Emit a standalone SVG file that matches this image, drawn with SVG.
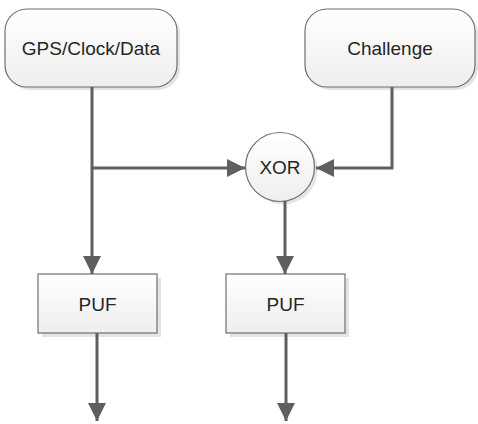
<svg xmlns="http://www.w3.org/2000/svg" width="478" height="424" viewBox="0 0 478 424">
<style>
.box{stroke:#6f6f6f;stroke-width:1.2;fill:url(#g)}
.sh{fill:#e4e4e4}
.lbl{font-family:"Liberation Sans",Arial,sans-serif;font-size:19px;fill:#262626;text-anchor:middle}
.edge{stroke:#5f5f5f;stroke-width:3;fill:none}
</style>
<defs>
<linearGradient id="g" x1="0" y1="0" x2="0" y2="1">
<stop offset="0" stop-color="#ffffff"/>
<stop offset="1" stop-color="#eeeeee"/>
</linearGradient>
<marker id="ah" viewBox="0 0 18 18" refX="18" refY="9" markerWidth="18" markerHeight="18" markerUnits="userSpaceOnUse" orient="auto">
<path d="M0,0 L18,9 L0,18 Z" fill="#5f5f5f"/>
</marker>
</defs>
<g id="gps">
<rect class="sh" x="8" y="12" width="172" height="78" rx="22"/>
<rect class="box" x="5" y="9" width="172" height="78" rx="22"/>
<text class="lbl" x="91" y="55">GPS/Clock/Data</text>
</g>
<g id="challenge">
<rect class="sh" x="308" y="12" width="170" height="78" rx="22"/>
<rect class="box" x="305" y="9" width="170" height="78" rx="22"/>
<text class="lbl" x="390" y="55">Challenge</text>
</g>
<g id="xor">
<circle class="sh" cx="283" cy="170" r="34.5"/>
<circle class="box" cx="280" cy="167" r="34.5"/>
<text class="lbl" x="280" y="174">XOR</text>
</g>
<g id="puf1">
<rect class="sh" x="42" y="278" width="119" height="59"/>
<rect class="box" x="38" y="274" width="119" height="59"/>
<text class="lbl" x="97.5" y="311">PUF</text>
</g>
<g id="puf2">
<rect class="sh" x="230" y="278" width="119" height="59"/>
<rect class="box" x="226" y="274" width="119" height="59"/>
<text class="lbl" x="285.5" y="311">PUF</text>
</g>
<g id="connectors">
<path class="edge" d="M92,87 V274" marker-end="url(#ah)"/>
<path class="edge" d="M92,168 H245" marker-end="url(#ah)"/>
<path class="edge" d="M392,87 V168 H316" marker-end="url(#ah)"/>
<path class="edge" d="M285,201 V274" marker-end="url(#ah)"/>
<path class="edge" d="M97,333 V421" marker-end="url(#ah)"/>
<path class="edge" d="M286,333 V421" marker-end="url(#ah)"/>
</g>
</svg>
